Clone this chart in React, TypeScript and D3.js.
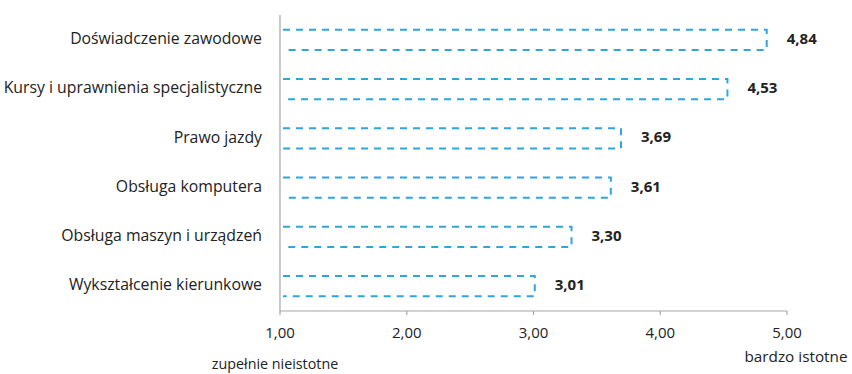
import React from "react";
import * as d3 from "d3";

const categories = [
  "Doświadczenie zawodowe",
  "Kursy i uprawnienia specjalistyczne",
  "Prawo jazdy",
  "Obsługa komputera",
  "Obsługa maszyn i urządzeń",
  "Wykształcenie kierunkowe",
];
const values = [4.84, 4.53, 3.69, 3.61, 3.3, 3.01];
const xTicks = [1, 2, 3, 4, 5];
const minLabel = "zupełnie nieistotne";
const maxLabel = "bardzo istotne";

const W = 852;
const H = 374;
const fmt = (v: number) => v.toFixed(2).replace(".", ",");

export default function App() {
  const x = d3.scaleLinear().domain([1, 5]).range([280, 787]);
  const y = d3.scaleBand<string>().domain(categories).range([15, 311]).paddingInner(0.59).paddingOuter(0.3);
  const font = "'Open Sans', sans-serif";
  const blue = "#2ea6dc";
  const axisY = 311;
  return (
    <div style={{ position: "fixed", left: 0, top: 0, width: W, height: H, background: "#fff" }}>
      <svg width={W} height={H} style={{ display: "block" }} fontFamily={font}>
        <rect width={W} height={H} fill="#fff" />
        <line x1={x(1)} x2={x(1)} y1={15} y2={axisY} stroke="#a6a6a6" strokeWidth={1.2} />
        <line x1={x(1)} x2={x(5)} y1={axisY} y2={axisY} stroke="#a6a6a6" strokeWidth={1.2} />
        {xTicks.map((t) => (
          <g key={t}>
            <line x1={x(t)} x2={x(t)} y1={axisY} y2={axisY + 4} stroke="#a6a6a6" strokeWidth={1.2} />
            <text x={x(t)} y={338} textAnchor="middle" fontSize={15} fill="#222">
              {fmt(t)}
            </text>
          </g>
        ))}
        <text x={x(1) - 5} y={369} textAnchor="middle" fontSize={14.3} fill="#222">
          {minLabel}
        </text>
        <text x={x(5) + 9} y={362} textAnchor="middle" fontSize={15.3} fill="#222">
          {maxLabel}
        </text>
        {categories.map((c, i) => {
          const y0 = y(c)!;
          const h = y.bandwidth();
          const x0 = x(1) + 3;
          const x1 = x(values[i]);
          const path = d3.path();
          path.moveTo(x0, y0);
          path.lineTo(x1, y0);
          path.lineTo(x1, y0 + h);
          path.lineTo(x0, y0 + h);
          return (
            <g key={c}>
              <text x={262} y={y0 + h / 2} textAnchor="end" dominantBaseline="middle" fontSize={15.8} fill="#222">
                {c}
              </text>
              <path d={path.toString()} fill="none" stroke={blue} strokeWidth={2} strokeDasharray="7,6" />
              <text x={x1 + 20} y={y0 + h / 2} dominantBaseline="middle" fontSize={15} fontWeight="bold" fill="#222">
                {fmt(values[i])}
              </text>
            </g>
          );
        })}
      </svg>
    </div>
  );
}
